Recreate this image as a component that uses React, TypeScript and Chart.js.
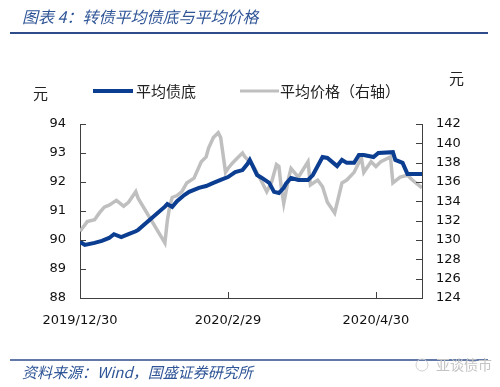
import React, { useEffect, useRef } from "react";
import { Chart, registerables } from "chart.js";

Chart.register(...registerables);

// ---- data ----
const bondDates = [
  "2019-12-30", "2020-01-01", "2020-01-05", "2020-01-08", "2020-01-11", "2020-01-13", "2020-01-16",
  "2020-01-19", "2020-01-22", "2020-01-23", "2020-02-03", "2020-02-04", "2020-02-06", "2020-02-08",
  "2020-02-11", "2020-02-13", "2020-02-17", "2020-02-20", "2020-02-23", "2020-02-26", "2020-02-29",
  "2020-03-03", "2020-03-06", "2020-03-08", "2020-03-09", "2020-03-10", "2020-03-12", "2020-03-14",
  "2020-03-17", "2020-03-19", "2020-03-21", "2020-03-23", "2020-03-24", "2020-03-26", "2020-03-29",
  "2020-04-02", "2020-04-04", "2020-04-08", "2020-04-10", "2020-04-14", "2020-04-16", "2020-04-18",
  "2020-04-21", "2020-04-23", "2020-04-25", "2020-04-29", "2020-05-01", "2020-05-07", "2020-05-08",
  "2020-05-11", "2020-05-13", "2020-05-19",
];
const bondFloor = [
  89.94, 89.83, 89.9, 89.97, 90.07, 90.2, 90.1,
  90.2, 90.3, 90.35, 91.15, 91.24, 91.14, 91.34,
  91.55, 91.66, 91.8, 91.86, 91.97, 92.07, 92.17,
  92.34, 92.41, 92.62, 92.76, 92.59, 92.24, 92.14,
  91.97, 91.66, 91.62, 91.8, 91.95, 92.14, 92.07,
  92.07, 92.24, 92.86, 92.83, 92.55, 92.76, 92.66,
  92.66, 92.93, 92.93, 92.86, 93.0, 93.03, 92.76,
  92.66, 92.28, 92.28,
];

const priceDates = [
  "2019-12-30", "2020-01-02", "2020-01-05", "2020-01-07", "2020-01-09", "2020-01-11", "2020-01-14",
  "2020-01-17", "2020-01-19", "2020-01-22", "2020-01-23", "2020-02-03", "2020-02-04", "2020-02-05",
  "2020-02-06", "2020-02-08", "2020-02-10", "2020-02-12", "2020-02-15", "2020-02-18", "2020-02-20",
  "2020-02-21", "2020-02-23", "2020-02-25", "2020-02-26", "2020-02-27", "2020-02-28", "2020-02-29",
  "2020-03-02", "2020-03-04", "2020-03-06", "2020-03-07", "2020-03-09", "2020-03-11", "2020-03-14",
  "2020-03-16", "2020-03-18", "2020-03-20", "2020-03-21", "2020-03-22", "2020-03-23", "2020-03-25",
  "2020-03-26", "2020-03-29", "2020-04-02", "2020-04-03", "2020-04-06", "2020-04-08", "2020-04-10",
  "2020-04-13", "2020-04-16", "2020-04-18", "2020-04-21", "2020-04-24", "2020-04-25", "2020-04-28",
  "2020-04-30", "2020-05-02", "2020-05-06", "2020-05-07", "2020-05-10", "2020-05-13", "2020-05-15",
  "2020-05-19",
];
const avgPrice = [
  130.9, 131.9, 132.1, 132.8, 133.4, 133.6, 134.1,
  133.5, 133.9, 135.0, 134.3, 129.7, 132.0, 133.5,
  134.4, 134.6, 135.0, 135.9, 136.4, 138.1, 138.6,
  139.5, 140.6, 141.1, 140.6, 138.8, 137.0, 137.4,
  138.0, 138.5, 139.0, 138.6, 138.1, 137.4, 136.0,
  135.0, 136.0, 137.8, 137.6, 135.4, 133.8, 136.4,
  137.4, 136.5, 138.1, 135.7, 136.2, 135.5, 133.9,
  132.8, 135.9, 136.2, 137.0, 138.5, 137.0, 138.1,
  137.6, 138.1, 138.6, 135.9, 136.5, 136.7, 136.2,
  135.4,
];

const xTickDates = ["2019-12-30", "2020-02-29", "2020-04-30"];
const xTickLabels = ["2019/12/30", "2020/2/29", "2020/4/30"];
const leftTicks = [88, 89, 90, 91, 92, 93, 94];
const rightTicks = [124, 126, 128, 130, 132, 134, 136, 138, 140, 142];

const titleText = "图表 4：转债平均债底与平均价格";
const sourceText = "资料来源：Wind，国盛证券研究所";
const watermarkText = "亚谈债市";
const seriesNames = ["平均债底", "平均价格（右轴）"];
const unitText = "元";

const BLUE = "#0B3D91";
const GRAY = "#BFBFBF";
const HEAD = "#2F5597";
const AXIS = "#404040";
const CJK = '"Noto Sans CJK SC", sans-serif';
const NUM = '"DejaVu Sans", sans-serif';

const dayOf = (s: string) =>
  (Date.parse(s + "T00:00:00Z") - Date.parse("2019-12-30T00:00:00Z")) / 86400000;

export default function App() {
  const ref = useRef<HTMLCanvasElement | null>(null);

  useEffect(() => {
    if (!ref.current) return;
    const tickVals = xTickDates.map(dayOf);
    const xMax = dayOf(bondDates[bondDates.length - 1]);

    const decor = {
      id: "decor",
      afterDraw(chart: any) {
        const ctx = chart.ctx;
        const ca = chart.chartArea;
        const sx = chart.scales.x;
        const sy = chart.scales.y;
        const sy2 = chart.scales.y2;
        ctx.save();
        // title
        ctx.fillStyle = HEAD;
        ctx.font = "italic 16px " + CJK;
        ctx.textBaseline = "middle";
        ctx.textAlign = "left";
        ctx.fillText(titleText, 22, 17);
        ctx.strokeStyle = "#2E4C8A";
        ctx.lineWidth = 2;
        ctx.beginPath();
        ctx.moveTo(10, 33);
        ctx.lineTo(488, 33);
        ctx.stroke();
        // footer
        ctx.strokeStyle = "#2E4C8A";
        ctx.lineWidth = 1.5;
        ctx.beginPath();
        ctx.moveTo(10, 360);
        ctx.lineTo(488, 360);
        ctx.stroke();
        ctx.fillStyle = HEAD;
        ctx.font = "italic 15px " + CJK;
        ctx.fillText(sourceText, 22, 372);
        ctx.fillStyle = "#C4C4C4";
        ctx.font = "14px " + CJK;
        ctx.fillText(watermarkText, 436, 365);
        ctx.strokeStyle = "#D0D0D0";
        ctx.lineWidth = 1;
        ctx.beginPath();
        ctx.arc(422, 365, 6, 0, Math.PI * 2);
        ctx.stroke();
        // units
        ctx.fillStyle = "#222";
        ctx.font = "15px " + CJK;
        ctx.fillText(unitText, 33, 93);
        ctx.fillText(unitText, 449, 78);
        // legend
        ctx.lineCap = "butt";
        ctx.strokeStyle = BLUE;
        ctx.lineWidth = 4;
        ctx.beginPath();
        ctx.moveTo(93, 91);
        ctx.lineTo(133, 91);
        ctx.stroke();
        ctx.fillStyle = "#222";
        ctx.font = "15px " + CJK;
        ctx.fillText(seriesNames[0], 136, 91);
        ctx.strokeStyle = GRAY;
        ctx.lineWidth = 3;
        ctx.beginPath();
        ctx.moveTo(240, 91);
        ctx.lineTo(279, 91);
        ctx.stroke();
        ctx.fillText(seriesNames[1], 280, 91);
        // inside tick marks
        ctx.strokeStyle = AXIS;
        ctx.lineWidth = 1;
        ctx.beginPath();
        leftTicks.forEach((v) => {
          const y = Math.round(sy.getPixelForValue(v)) + 0.5;
          ctx.moveTo(ca.left, y);
          ctx.lineTo(ca.left + 6, y);
        });
        rightTicks.forEach((v) => {
          const y = Math.round(sy2.getPixelForValue(v)) + 0.5;
          ctx.moveTo(ca.right - 6, y);
          ctx.lineTo(ca.right, y);
        });
        tickVals.forEach((v) => {
          const x = Math.round(sx.getPixelForValue(v)) + 0.5;
          ctx.moveTo(x, ca.bottom);
          ctx.lineTo(x, ca.bottom - 6);
        });
        ctx.stroke();
        ctx.restore();
      },
    };

    const chart = new Chart(ref.current, {
      type: "line",
      data: {
        datasets: [
          {
            label: seriesNames[1],
            data: priceDates.map((d, i) => ({ x: dayOf(d), y: avgPrice[i] })),
            borderColor: GRAY,
            borderWidth: 3.5,
            pointRadius: 0,
            tension: 0,
            yAxisID: "y2",
            order: 2,
          },
          {
            label: seriesNames[0],
            data: bondDates.map((d, i) => ({ x: dayOf(d), y: bondFloor[i] })),
            borderColor: BLUE,
            borderWidth: 4,
            pointRadius: 0,
            tension: 0,
            yAxisID: "y",
            order: 1,
          },
        ],
      },
      options: {
        animation: false,
        responsive: false,
        maintainAspectRatio: false,
        layout: { padding: { top: 124, left: 0, right: 0, bottom: 0 } },
        plugins: { legend: { display: false }, title: { display: false }, tooltip: { enabled: false } },
        scales: {
          x: {
            type: "linear",
            min: 0,
            max: xMax,
            afterBuildTicks: (s: any) => {
              s.ticks = tickVals.map((v) => ({ value: v }));
            },
            afterFit: (s: any) => {
              s.height = 89;
            },
            grid: { display: false, drawTicks: false },
            border: { display: true, color: AXIS, width: 1 },
            ticks: {
              padding: 15,
              color: "#111",
              font: { family: NUM, size: 13 },
              maxRotation: 0,
              autoSkip: false,
              callback: (v: any) => {
                const i = tickVals.indexOf(Number(v));
                return i >= 0 ? xTickLabels[i] : "";
              },
            },
          },
          y: {
            position: "left",
            min: 88,
            max: 94,
            afterBuildTicks: (s: any) => {
              s.ticks = leftTicks.map((v) => ({ value: v }));
            },
            afterFit: (s: any) => {
              s.width = 80;
            },
            grid: { display: false, drawTicks: false },
            border: { display: true, color: AXIS, width: 1 },
            ticks: { padding: 14, color: "#111", font: { family: NUM, size: 13 } },
          },
          y2: {
            position: "right",
            min: 124,
            max: 142,
            afterBuildTicks: (s: any) => {
              s.ticks = rightTicks.map((v) => ({ value: v }));
            },
            afterFit: (s: any) => {
              s.width = 78;
            },
            grid: { display: false, drawTicks: false },
            border: { display: true, color: AXIS, width: 1 },
            ticks: { padding: 14, color: "#111", font: { family: NUM, size: 13 } },
          },
        },
      },
      plugins: [decor],
    });
    return () => chart.destroy();
  }, []);

  return (
    <div style={{ position: "fixed", left: 0, top: 0, width: 500, height: 387, background: "#fff" }}>
      <canvas ref={ref} width={500} height={387} style={{ width: 500, height: 387, display: "block" }} />
    </div>
  );
}
